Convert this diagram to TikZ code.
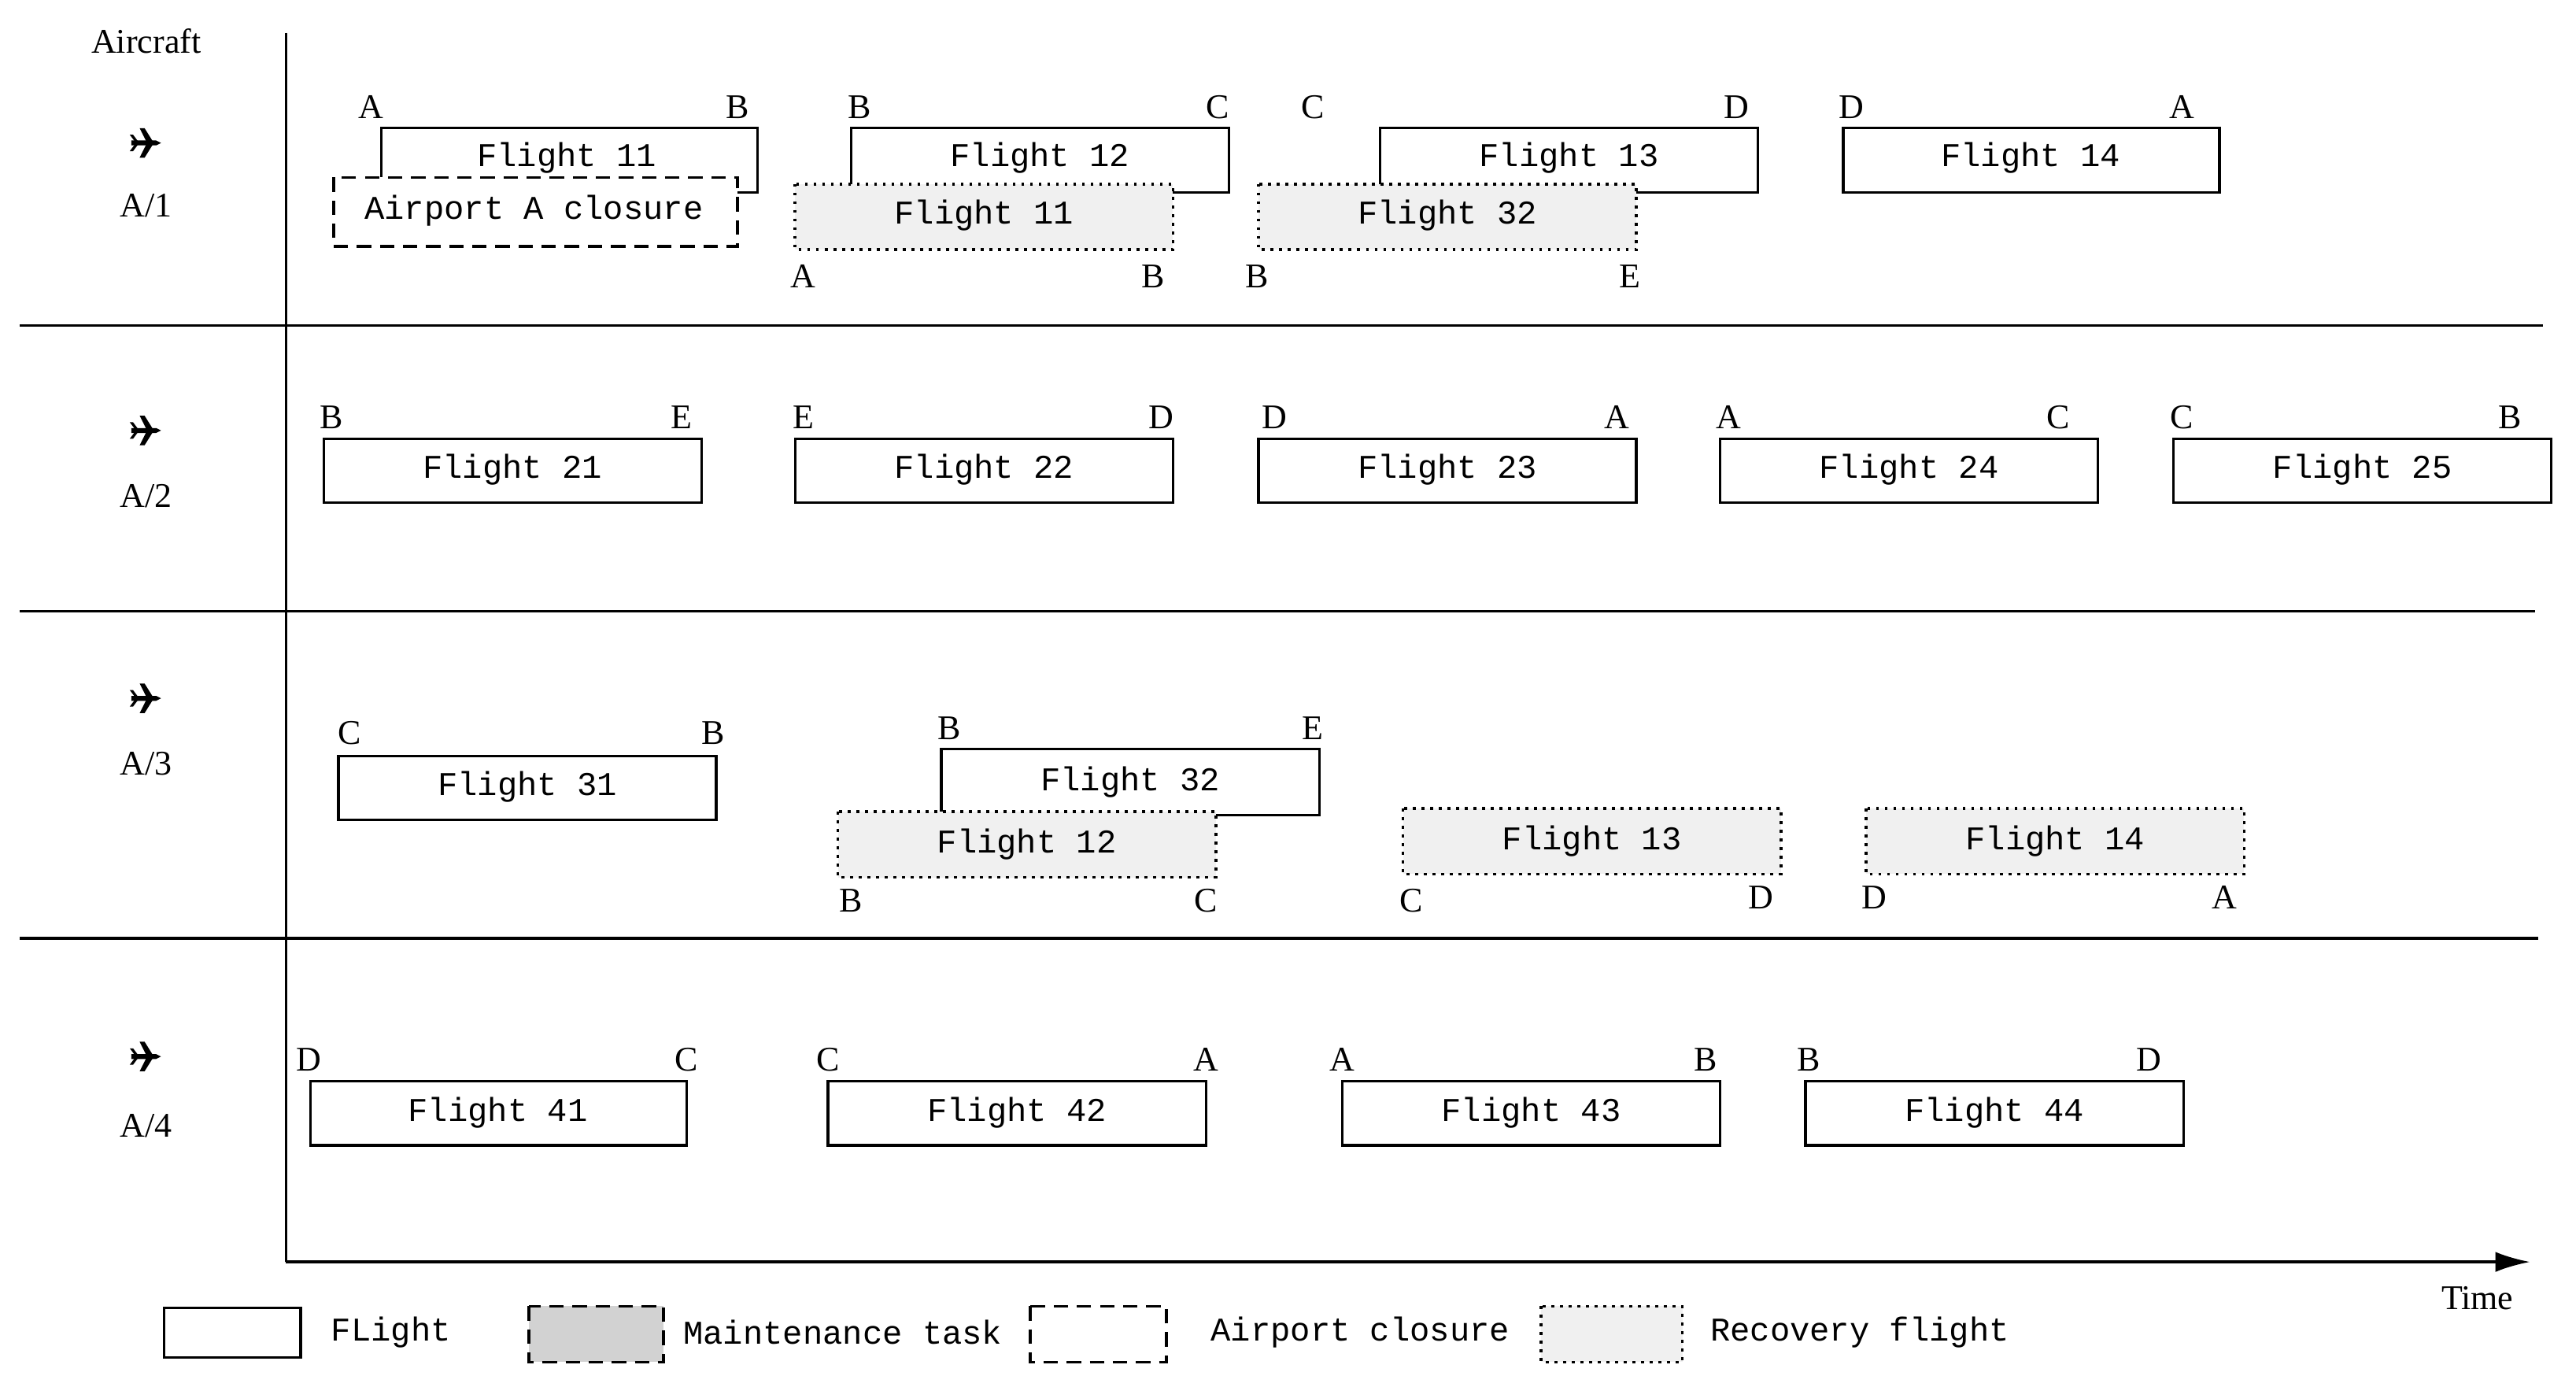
\documentclass[tikz,border=0pt]{standalone}
\usepackage{fontspec}
\setmainfont{Liberation Serif}
\newfontfamily\mono{Liberation Mono}
\usetikzlibrary{arrows.meta}
\begin{document}
\begin{tikzpicture}[x=0.02cm,y=-0.02cm,
 fl/.style={draw,line width=0.9pt,fill=white},
 rec/.style={draw,line width=1pt,dotted,fill=gray!12},
 clo/.style={draw,line width=1pt,dash pattern=on 5pt off 3pt,fill=white},
 mnt/.style={draw,line width=1pt,dash pattern=on 5pt off 3pt,fill=gray!35},
 ft/.style={font=\mono\fontsize{11.5}{12}\selectfont},
 ap/.style={font=\fontsize{12}{13}\selectfont},
 ax/.style={line width=0.9pt}]
\useasboundingbox (0,0) rectangle (1568,844);
% axes
\coordinate (o) at (174,768); \coordinate (top) at (174,20); \coordinate (end) at (1540,768);
\draw[ax] (top) -- (o);
\draw[ax,-{Latex[length=12pt,width=7pt]}] (o) -- (end);
\foreach \y/\xx in {198/1548,372/1543,571/1545} \draw[ax] (12,\y) -- (\xx,\y);
\node[ap] (aircraft) at (89,25) {Aircraft};
\node[ap] (time) at (1508,790) {Time};
\foreach \y/\l [count=\i] in {87/A/1,262/A/2,425/A/3,643/A/4}{
 \begin{scope}[shift={(89,\y)}]
 \fill (-9,-1.5) -- (6,-1.5) -- (9,0) -- (6,1.5) -- (-9,1.5) -- cycle;
 \fill (0,-1) -- (-4,-9) -- (-1,-9) -- (4,-1) -- cycle;
 \fill (0,1) -- (-4,9) -- (-1,9) -- (4,1) -- cycle;
 \fill (-7,-1) -- (-10,-5) -- (-8,-5) -- (-5,-1) -- cycle;
 \fill (-7,1) -- (-10,5) -- (-8,5) -- (-5,1) -- cycle;
 \end{scope}
}
\node[ap] (a1) at (89,125) {A/1};
\node[ap] (a2) at (89,302) {A/2};
\node[ap] (a3) at (89,465) {A/3};
\node[ap] (a4) at (89,685) {A/4};
\foreach \s/\xa/\ya/\xb/\yb in {
 fl/232/78/461/117, clo/203/108/449/150,
 fl/518/78/748/117, rec/484/112/714/152,
 fl/840/78/1070/117, rec/766/112/996/152,
 fl/1122/78/1351/117,
 fl/197/267/427/306, fl/484/267/714/306, fl/766/267/996/306,
 fl/1047/267/1277/306, fl/1323/267/1553/306,
 fl/206/460/436/499, fl/573/456/803/496, rec/510/494/740/534,
 rec/854/492/1084/532, rec/1136/492/1366/532,
 fl/189/658/418/697, fl/504/658/734/697, fl/817/658/1047/697,
 fl/1099/658/1329/697}{
 \draw[\s] (\xa,\ya) rectangle (\xb,\yb);
}
\foreach \x/\y/\t [count=\i] in {345/96/Flight 11, 325/128/Airport A closure,
 633/96/Flight 12, 599/131/Flight 11, 955/96/Flight 13, 881/131/Flight 32, 1236/96/Flight 14,
 312/286/Flight 21, 599/286/Flight 22, 881/286/Flight 23, 1162/286/Flight 24, 1438/286/Flight 25,
 321/479/Flight 31, 688/476/Flight 32, 625/514/Flight 12, 969/512/Flight 13, 1251/512/Flight 14,
 303/677/Flight 41, 619/677/Flight 42, 932/677/Flight 43, 1214/677/Flight 44}
 \node[ft] (t\i) at (\x,\y) {\t};
\foreach \x/\y/\t [count=\i] in {226/65/A,449/65/B,523/65/B,741/65/C,799/65/C,1057/65/D,1127/65/D,1328/65/A,
 489/168/A,702/168/B,765/168/B,992/168/E,
 202/254/B,415/254/E,489/254/E,707/254/D,776/254/D,984/254/A,1052/254/A,1253/254/C,1328/254/C,1528/254/B,
 213/446/C,434/446/B,578/443/B,799/443/E,518/548/B,734/548/C,859/548/C,1072/546/D,1141/546/D,1354/546/A,
 188/645/D,418/645/C,504/645/C,734/645/A,817/645/A,1038/645/B,1101/645/B,1308/645/D}
 \node[ap] (l\i) at (\x,\y) {\t};
\draw[fl] (100,796) rectangle (183,826); \node[ft] (lg1) at (238,811) {FLight};
\draw[mnt] (322,795) rectangle (404,829); \node[ft] (lg2) at (513,811) {Maintenance task};
\draw[clo] (627,795) rectangle (710,829); \node[ft] (lg3) at (828,811) {Airport closure};
\draw[rec] (938,795) rectangle (1024,829); \node[ft] (lg4) at (1132,811) {Recovery flight};
\end{tikzpicture}
\end{document}
